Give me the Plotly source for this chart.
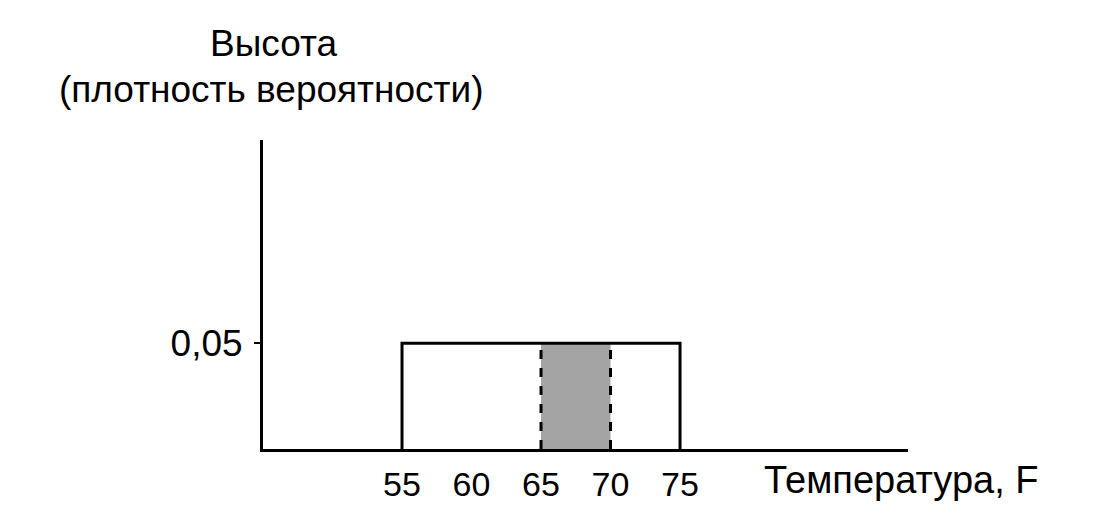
import plotly.graph_objects as go

# Data
low, high = 55, 75
density = 0.05
shade_low, shade_high = 65, 70
x_ticks = [55, 60, 65, 70, 75]
x_tick_labels = ["55", "60", "65", "70", "75"]
y_ticks = [0.05]
y_tick_labels = ["0,05"]
y_title_lines = ["Высота", "(плотность вероятности)"]
x_title = "Температура, F"

FONT = "Liberation Sans, Arial, sans-serif"
FS = 34
FT = 37

# page offset (body margin) and plot area
OFF = 8
L, R, T, B = 263 - OFF, 1120 - (908 - OFF), 140 - OFF, 530 - (449 - OFF)
PW, PH = 1120 - L - R, 530 - T - B


def px(x):
    return (x - OFF - L) / PW


def py(y):
    return ((530 - (y - OFF)) - B) / PH


fig = go.Figure()

# shaded area 65-70
fig.add_trace(go.Scatter(
    x=[shade_low, shade_low, shade_high, shade_high, shade_low],
    y=[0, density, density, 0, 0],
    mode="lines", fill="toself", fillcolor="#a4a4a4",
    line=dict(width=0), hoverinfo="skip", showlegend=False))
# dashed edges
for xv in (shade_low, shade_high):
    fig.add_trace(go.Scatter(
        x=[xv, xv], y=[0, density], mode="lines",
        line=dict(color="black", width=3, dash="dash"),
        hoverinfo="skip", showlegend=False))
# rectangle outline (uniform density)
fig.add_trace(go.Scatter(
    x=[low, low, high, high], y=[0, density, density, 0],
    mode="lines", line=dict(color="black", width=3),
    hoverinfo="skip", showlegend=False))

fig.update_layout(
    width=1120, height=530,
    margin=dict(l=L, r=R, t=T, b=B),
    paper_bgcolor="white", plot_bgcolor="white",
    font=dict(family=FONT, color="black", size=FS),
    xaxis=dict(range=[45, 91.4], showgrid=False, zeroline=False,
               showline=True, linecolor="black", linewidth=3,
               tickvals=x_ticks, ticktext=x_tick_labels, ticks="",
               ticklabelstandoff=3,
               tickfont=dict(size=FS, family=FONT)),
    yaxis=dict(range=[0, 0.146], showgrid=False, zeroline=False,
               showline=True, linecolor="black", linewidth=3,
               tickvals=y_ticks, ticktext=y_tick_labels,
               ticks="outside", ticklen=6, tickwidth=2, tickcolor="black",
               ticklabelstandoff=4,
               tickfont=dict(size=FT, family=FONT)),
    annotations=[
        dict(x=px(273), y=py(44), xref="paper", yref="paper", text=y_title_lines[0],
             showarrow=False, font=dict(size=FT, family=FONT), xanchor="center", yanchor="middle"),
        dict(x=px(271), y=py(89), xref="paper", yref="paper", text=y_title_lines[1],
             showarrow=False, font=dict(size=FT, family=FONT), xanchor="center", yanchor="middle"),
        dict(x=px(762), y=py(480), xref="paper", yref="paper", text=x_title,
             showarrow=False, font=dict(size=38, family=FONT), xanchor="left", yanchor="middle"),
    ],
)

fig.write_html("out.html")
